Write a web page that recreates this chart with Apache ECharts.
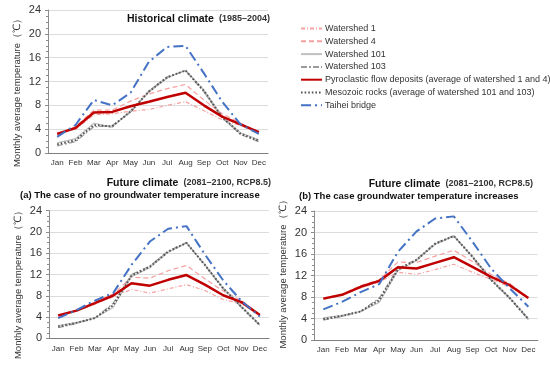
<!DOCTYPE html>
<html><head><meta charset="utf-8">
<script src="https://cdn.jsdelivr.net/npm/echarts@6/dist/echarts.min.js"></script>
<style>html,body{margin:0;padding:0;background:#fff}#c{width:550px;height:365px}</style>
</head><body><div id="c"></div>
<script>
var months = ['Jan','Feb','Mar','Apr','May','Jun','Jul','Aug','Sep','Oct','Nov','Dec'];
var yTicks = [0, 24, 4];
var names = ['Watershed 1','Watershed 4','Watershed 101','Watershed 103',
  'Pyroclastic flow deposits (average of watershed 1 and 4)',
  'Mesozoic rocks (average of watershed 101 and 103)','Taihei bridge'];

// Historical climate (1985-2004)
var histWs1    = [3.4, 4.0, 6.4, 6.6, 7.0, 7.3, 8.0, 8.6, 7.1, 5.6, 4.6, 3.6];
var histWs4    = [3.0, 4.4, 7.2, 7.2, 8.7, 9.9, 10.8, 11.5, 8.9, 6.6, 5.0, 3.4];
var histPyro   = [3.2, 4.2, 6.8, 6.9, 7.85, 8.6, 9.4, 10.1, 8.0, 6.1, 4.8, 3.5];
var histWs101  = [1.7, 2.4, 5.0, 4.3, 7.1, 10.2, 12.6, 13.9, 10.6, 6.1, 3.4, 2.2];
var histWs103  = [1.2, 1.9, 4.4, 4.6, 6.8, 10.4, 12.8, 13.8, 10.3, 5.9, 3.1, 1.9];
var histMeso   = [1.45, 2.15, 4.7, 4.45, 6.95, 10.3, 12.7, 13.85, 10.45, 6.0, 3.25, 2.05];
var histTaihei = [2.7, 4.7, 8.9, 8.0, 10.1, 15.3, 17.8, 18.0, 13.4, 8.6, 4.8, 3.2];

// Future (a) no groundwater temperature increase
var aWs1    = [4.3, 5.1, 6.4, 7.8, 9.2, 8.5, 9.3, 10.1, 9.0, 7.3, 6.5, 4.4];
var aWs4    = [4.3, 5.3, 6.8, 8.3, 11.5, 11.3, 12.7, 13.7, 11.2, 8.9, 7.1, 4.4];
var aPyro   = [4.3, 5.2, 6.6, 8.05, 10.35, 9.9, 11.0, 11.9, 10.1, 8.1, 6.8, 4.4];
var aWs101  = [2.4, 3.0, 3.8, 5.8, 11.6, 13.3, 16.2, 17.9, 13.9, 9.5, 6.0, 2.6];
var aWs103  = [2.0, 2.8, 3.8, 6.6, 12.0, 13.6, 16.4, 18.0, 13.7, 9.3, 5.8, 2.4];
var aMeso   = [2.2, 2.9, 3.8, 6.2, 11.8, 13.45, 16.3, 17.95, 13.8, 9.4, 5.9, 2.5];
var aTaihei = [3.8, 5.3, 7.1, 8.5, 13.8, 18.2, 20.6, 21.1, 15.8, 10.9, 7.0, 4.1];

// Future (b) groundwater temperature increases
var bWs1    = [7.6, 8.3, 9.7, 10.8, 12.6, 12.2, 13.1, 14.1, 12.6, 11.3, 9.9, 7.8];
var bWs4    = [7.8, 8.5, 10.1, 11.2, 14.5, 14.4, 15.6, 16.7, 14.6, 12.2, 10.5, 7.8];
var bPyro   = [7.7, 8.4, 9.9, 11.0, 13.55, 13.3, 14.35, 15.4, 13.6, 11.75, 10.2, 7.8];
var bWs101  = [4.1, 4.6, 5.3, 7.0, 12.9, 14.8, 17.8, 19.3, 15.6, 11.3, 7.9, 4.0];
var bWs103  = [3.7, 4.4, 5.3, 7.8, 13.3, 15.0, 18.0, 19.4, 15.4, 11.1, 7.7, 3.8];
var bMeso   = [3.9, 4.5, 5.3, 7.4, 13.1, 14.9, 17.9, 19.35, 15.5, 11.2, 7.8, 3.9];
var bTaihei = [5.7, 7.1, 8.9, 10.4, 16.4, 20.2, 22.6, 23.0, 18.3, 13.3, 9.6, 6.2];

var FONT = 'Liberation Sans, Arial, sans-serif';
var styles = [
  {color:'#f5a3a3', width:1.2, type:[4,2,1,2]},
  {color:'#f7a0a0', width:1.2, type:[5,3]},
  {color:'#c0c0c0', width:1.2, type:'solid'},
  {color:'#9a9a9a', width:1.2, type:[6,2,2,2]},
  {color:'#c00000', width:2.5, type:'solid'},
  {color:'#555555', width:2, type:[1.6,2]},
  {color:'#4472c4', width:2, type:[10,4,2,4]}
];
var panels = [
  [histWs1, histWs4, histWs101, histWs103, histPyro, histMeso, histTaihei],
  [aWs1, aWs4, aWs101, aWs103, aPyro, aMeso, aTaihei],
  [bWs1, bWs4, bWs101, bWs103, bPyro, bMeso, bTaihei]
];
var grids = [
  {left:48, top:10, width:220, height:143},
  {left:49, top:210.7, width:220, height:127.6},
  {left:314, top:211, width:223.7, height:129}
];
var namePad = [[0,18,0,0],[0,16,0,0],[0,0,0,7]];
var xAxes = [], yAxes = [], series = [];
grids.forEach(function(g, i){
  xAxes.push({gridIndex:i, type:'category', data:months, boundaryGap:true,
    axisLine:{lineStyle:{color:'#7f7f7f', width:1.2}}, axisTick:{show:false},
    axisLabel:{interval:0, fontSize:8, color:'#333', margin:6, fontFamily:FONT}});
  yAxes.push({gridIndex:i, type:'value', min:yTicks[0], max:yTicks[1], interval:yTicks[2],
    axisLine:{show:true, lineStyle:{color:'#8c8c8c'}},
    axisTick:{show:true, length:3, lineStyle:{color:'#8c8c8c'}},
    minorTick:{show:true, splitNumber:4, length:2, lineStyle:{color:'#8c8c8c'}},
    splitLine:{lineStyle:{color:'#dcdcdc'}},
    axisLabel:{fontSize:11, color:'#333', margin:7, fontFamily:FONT},
    name:'Monthly average temperature（℃）', nameLocation:'middle', nameGap:26,
    nameTextStyle:{fontSize:9.5, color:'#333', fontFamily:FONT, padding:namePad[i]}});
  [0,1,2,3,4,5,6].forEach(function(k){
    series.push({type:'line', name:names[k], xAxisIndex:i, yAxisIndex:i,
      data:panels[i][k], symbol:'none', smooth:false, silent:true,
      lineStyle:{color:styles[k].color, width:styles[k].width, type:styles[k].type},
      itemStyle:{color:styles[k].color}, z: (k===4||k===6)?5:3});
  });
});
var rich = {
  b:{fontSize:10.5, fontWeight:'bold', color:'#111', fontFamily:FONT},
  n:{fontSize:9, color:'#333', fontFamily:FONT}
};
var chart = echarts.init(document.getElementById('c'), null, {renderer:'canvas'});
chart.setOption({
  animation:false,
  backgroundColor:'#fff',
  title:[
    {text:'{b|Historical climate} {n|(1985–2004)}', right:280, top:10, textStyle:{rich:rich}, padding:0},
    {text:'{b|Future climate} {n|(2081–2100, RCP8.5)}', right:279, top:174, textStyle:{rich:rich}, padding:0},
    {text:'(a) The case of no groundwater temperature increase', left:20, top:190, padding:0,
      textStyle:{fontSize:9.5, fontWeight:'bold', color:'#111', fontFamily:FONT}},
    {text:'{b|Future climate} {n|(2081–2100, RCP8.5)}', right:17, top:175, textStyle:{rich:rich}, padding:0},
    {text:'(b) The case groundwater temperature increases', left:299, top:191, padding:0,
      textStyle:{fontSize:9.5, fontWeight:'bold', color:'#111', fontFamily:FONT}}
  ],
  legend:{data:names, orient:'vertical', left:300, top:24, itemWidth:21, itemHeight:8,
    itemGap:3.8, padding:0, selectedMode:false,
    itemStyle:{opacity:0, color:'rgba(0,0,0,0)', borderWidth:0},
    textStyle:{fontSize:9, lineHeight:9, color:'#333', fontFamily:FONT, padding:[0,0,0,-2]}},
  grid:grids, xAxis:xAxes, yAxis:yAxes, series:series
});
</script></body></html>
